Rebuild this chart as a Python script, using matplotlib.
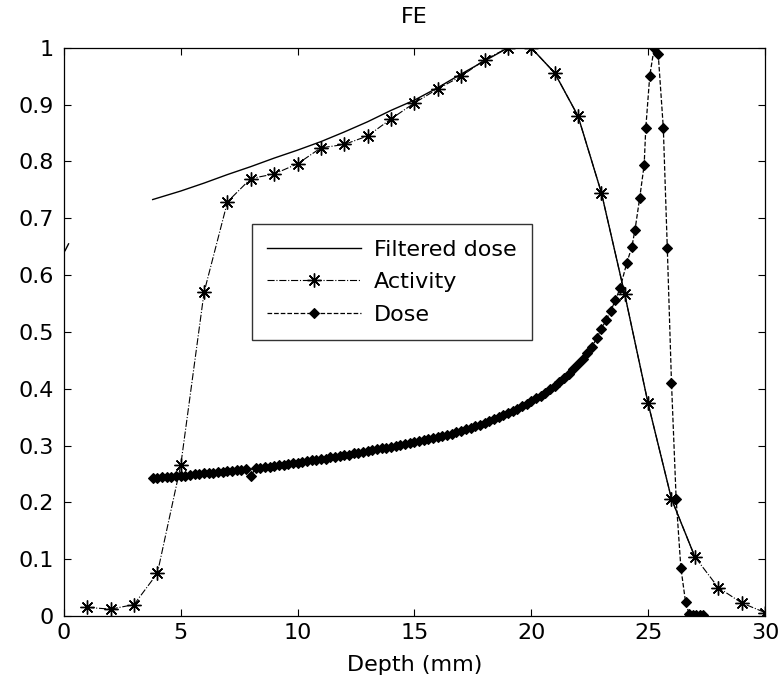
import numpy as np
import matplotlib
matplotlib.use('Agg')
import matplotlib.pyplot as plt

plt.rcParams['font.family'] = ['DejaVu Sans']

# Activity (measured, 1 mm steps)
act_depth = [1, 2, 3, 4, 5, 6, 7, 8, 9, 10, 11, 12, 13, 14, 15, 16, 17, 18, 19, 20,
             21, 22, 23, 24, 25, 26, 27, 28, 29, 30]
act_value = [0.015, 0.012, 0.02, 0.075, 0.265, 0.57, 0.729, 0.77, 0.778, 0.796,
             0.824, 0.83, 0.845, 0.875, 0.903, 0.928, 0.95, 0.979, 1.0, 1.0,
             0.956, 0.88, 0.745, 0.566, 0.374, 0.206, 0.104, 0.05, 0.023, 0.006]

# Filtered dose (nan splits the stray stroke at the left edge)
filt_depth = [0.05, 0.2, np.nan, 3.8, 5, 6, 7, 8, 9, 10, 11, 12, 13, 14, 15, 16, 17,
              18, 19, 20, 21, 22, 23, 24, 25, 26, 27]
filt_value = [0.643, 0.655, np.nan, 0.733, 0.748, 0.762, 0.777, 0.791, 0.806, 0.82,
              0.835, 0.852, 0.87, 0.89, 0.908, 0.93, 0.954, 0.977, 1.0, 1.0,
              0.956, 0.88, 0.745, 0.566, 0.374, 0.206, 0.104]

# Dose (dense part then the Bragg peak)
dose_depth = [3.8, 4.0, 4.2, 4.4, 4.6, 4.8, 5.0, 5.2, 5.4, 5.6, 5.8,
              6.0, 6.2, 6.4, 6.6, 6.8, 7.0, 7.2, 7.4, 7.6, 7.8,
              8.0, 8.2, 8.4, 8.6, 8.8, 9.0, 9.2, 9.4, 9.6, 9.8,
              10.0, 10.2, 10.4, 10.6, 10.8, 11.0, 11.2, 11.4, 11.6, 11.8,
              12.0, 12.2, 12.4, 12.6, 12.8, 13.0, 13.2, 13.4, 13.6, 13.8,
              14.0, 14.2, 14.4, 14.6, 14.8, 15.0, 15.2, 15.4, 15.6, 15.8,
              16.0, 16.2, 16.4, 16.6, 16.8, 17.0, 17.2, 17.4, 17.6, 17.8,
              18.0, 18.2, 18.4, 18.6, 18.8, 19.0, 19.2, 19.4, 19.6, 19.8,
              20.0, 20.2, 20.4, 20.6, 20.8, 21.0, 21.2, 21.4, 21.6, 21.8,
              22.0, 22.2, 22.4, 22.6, 22.8, 23.0, 23.2, 23.4, 23.6, 23.8,
              24.09, 24.3, 24.44, 24.64, 24.83, 24.9, 25.07, 25.26, 25.43, 25.65,
              25.82, 26.0, 26.2, 26.4, 26.6, 26.75, 26.9, 27.05, 27.2, 27.35]
dose_value = [0.243, 0.243, 0.244, 0.244, 0.245, 0.246, 0.247, 0.247, 0.248, 0.249, 0.250,
              0.251, 0.252, 0.252, 0.253, 0.254, 0.255, 0.256, 0.257, 0.257, 0.258,
              0.246, 0.260, 0.261, 0.262, 0.263, 0.264, 0.265, 0.266, 0.268, 0.269,
              0.270, 0.271, 0.272, 0.274, 0.275, 0.276, 0.277, 0.279, 0.280, 0.282,
              0.283, 0.284, 0.286, 0.287, 0.289, 0.290, 0.292, 0.293, 0.295, 0.296,
              0.298, 0.300, 0.301, 0.303, 0.304, 0.306, 0.308, 0.310, 0.311, 0.313,
              0.315, 0.317, 0.319, 0.321, 0.324, 0.326, 0.329, 0.331, 0.334, 0.337,
              0.340, 0.343, 0.346, 0.350, 0.353, 0.357, 0.361, 0.365, 0.369, 0.373,
              0.378, 0.383, 0.388, 0.393, 0.399, 0.405, 0.412, 0.419, 0.426, 0.434,
              0.443, 0.453, 0.463, 0.474, 0.489, 0.505, 0.521, 0.537, 0.556, 0.577,
              0.622, 0.649, 0.68, 0.736, 0.794, 0.859, 0.951, 1.0, 0.99, 0.859,
              0.648, 0.41, 0.205, 0.085, 0.025, 0.004, 0.002, 0.002, 0.002, 0.002]

xticks = [0, 5, 10, 15, 20, 25, 30]
yticks = [0, 0.1, 0.2, 0.3, 0.4, 0.5, 0.6, 0.7, 0.8, 0.9, 1]
ytick_labels = ['0', '0.1', '0.2', '0.3', '0.4', '0.5', '0.6', '0.7', '0.8', '0.9', '1']

fs = 16

fig = plt.figure(figsize=(7.79, 6.84), dpi=100)
ax = fig.add_axes([0.082, 0.0995, 0.9, 0.8305])

ax.plot(filt_depth, filt_value, '-', color='black', linewidth=1.0, label='Filtered dose')
ax.plot(act_depth, act_value, '-.', color='black', linewidth=0.8,
        marker=(8, 2, 0), markersize=10, markeredgewidth=1.0, label='Activity')
ax.plot(dose_depth, dose_value, '--', color='black', linewidth=0.9,
        marker='D', markersize=5.3, markeredgewidth=0.8, label='Dose')

ax.set_xlim(0, 30)
ax.set_ylim(0, 1)
ax.set_xticks(xticks)
ax.set_yticks(yticks)
ax.set_yticklabels(ytick_labels)
ax.tick_params(axis='x', pad=5)
ax.tick_params(axis='y', pad=7)
ax.tick_params(direction='in', top=True, right=True, length=5, width=0.8,
               labelsize=fs, colors='black')
for s in ax.spines.values():
    s.set_linewidth(0.9)

ax.set_title('FE', fontsize=fs, pad=18)
ax.set_xlabel('Depth (mm)', fontsize=fs, labelpad=9)

leg = ax.legend(loc='upper left', bbox_to_anchor=(0.268, 0.690), fontsize=fs,
                frameon=True, fancybox=False, edgecolor='black', handlelength=4.2,
                borderpad=0.7, labelspacing=0.57, handletextpad=0.6, borderaxespad=0)
leg.get_frame().set_linewidth(1.0)

fig.savefig('out.png', dpi=100)
